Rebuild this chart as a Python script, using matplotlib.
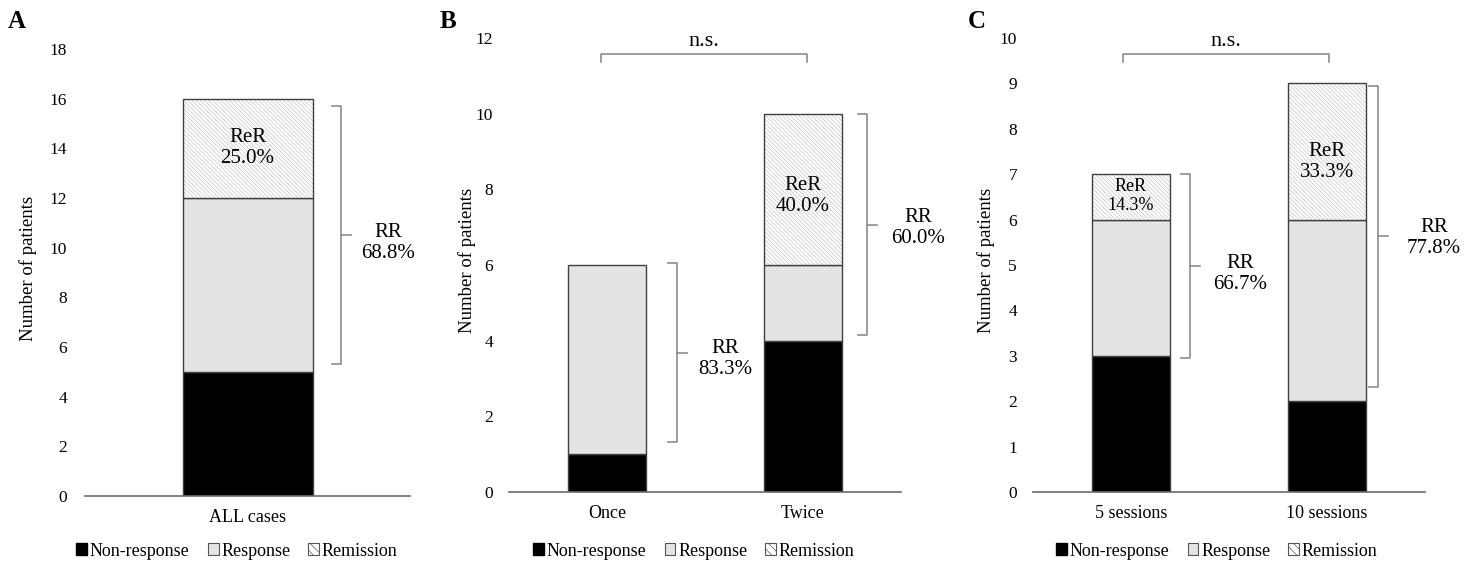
import matplotlib
matplotlib.use('Agg')
import matplotlib.pyplot as plt
from matplotlib.patches import Patch

plt.rcParams['font.family'] = ['Liberation Serif', 'DejaVu Serif']
plt.rcParams['hatch.linewidth'] = 0.5

# #
# data
cats_a = ['ALL cases']
nonresp_a = [5]
resp_a = [7]
remis_a = [4]
rr_a = ['68.8%']
rer_a = ['25.0%']

cats_b = ['Once', 'Twice']
nonresp_b = [1, 4]
resp_b = [5, 2]
remis_b = [0, 4]
rr_b = ['83.3%', '60.0%']
rer_b = [None, '40.0%']

cats_c = ['5 sessions', '10 sessions']
nonresp_c = [3, 2]
resp_c = [3, 4]
remis_c = [1, 3]
rr_c = ['66.7%', '77.8%']
rer_c = ['14.3%', '33.3%']

# #
# layout settings
W, H = 1478, 564
col_resp = '#e4e4e4'
col_edge = '#404040'
col_brk = '#8c8c8c'
hatch = '\\' * 8

fig = plt.figure(figsize=(W / 100, H / 100), dpi=100)


def px_axes(left, top, right, bottom):
    return fig.add_axes([left / W, 1 - bottom / H, (right - left) / W, (bottom - top) / H])


def draw_panel(ax, cats, nonresp, resp, remis, ymax, ystep, tickpad):
    x = list(range(len(cats)))
    bot2 = [a + b for a, b in zip(nonresp, resp)]
    ax.bar(x, nonresp, width=0.4, color='black', edgecolor=col_edge, linewidth=1.0, zorder=2)
    ax.bar(x, resp, width=0.4, bottom=nonresp, color=col_resp, edgecolor=col_edge, linewidth=1.0, zorder=2)
    for xi, b, h in zip(x, bot2, remis):
        if h == 0:
            continue
        ax.bar(xi, h, width=0.4, bottom=b, color='white', edgecolor='#c4c4c4', linewidth=0, hatch=hatch, zorder=2)
        ax.bar(xi, h, width=0.4, bottom=b, color='none', edgecolor=col_edge, linewidth=1.0, zorder=3)
    ax.set_xlim(-0.5, len(cats) - 0.5)
    ax.set_ylim(0, ymax)
    ax.set_yticks(range(0, ymax + 1, ystep))
    ax.set_xticks(x)
    ax.set_xticklabels(cats, fontsize=13)
    for s in ['top', 'right', 'left']:
        ax.spines[s].set_visible(False)
    ax.spines['bottom'].set_color('#6a6a6a')
    ax.spines['bottom'].set_linewidth(1.2)
    ax.tick_params(axis='y', length=0, pad=tickpad, labelsize=12.5)
    ax.tick_params(axis='x', length=0, pad=9)
    ax.set_facecolor('none')


def rr_bracket(ax, xb, lo, hi, xt, yt, label):
    # vertical bracket: arms left at the ends, small tick right at the middle
    xr = ax.get_xlim()
    dx = (xr[1] - xr[0]) / (ax.get_position().width * W)  # data units per pixel
    mid = (lo + hi) / 2
    ax.plot([xb - 9 * dx, xb, xb, xb - 9 * dx], [lo, lo, hi, hi], c=col_brk, lw=1.2, clip_on=False, zorder=4)
    ax.plot([xb, xb + 10 * dx], [mid, mid], c=col_brk, lw=1.2, clip_on=False, zorder=4)
    ax.text(xt, yt, 'RR\n' + label, ha='center', va='center', fontsize=15, clip_on=False, linespacing=1.15)


def ns_bracket(ax, x0, x1, yl, ye, yt):
    ax.plot([x0, x0, x1, x1], [ye, yl, yl, ye], c=col_brk, lw=1.2, clip_on=False)
    ax.text((x0 + x1) / 2, yt, 'n.s.', ha='center', va='center', fontsize=16, clip_on=False)


def rer_text(ax, xs, heights, labels, ys, sizes):
    for xi, h, lab, y, fs in zip(xs, heights, labels, ys, sizes):
        if lab is None or h == 0:
            continue
        ax.text(xi, y, 'ReR\n' + lab, ha='center', va='center', fontsize=fs, zorder=5, linespacing=1.15)


def legend_below(ax, xc):
    handles = [Patch(facecolor='black', edgecolor='black', label='Non-response'),
               Patch(facecolor=col_resp, edgecolor='#555555', linewidth=0.8, label='Response'),
               Patch(facecolor='white', edgecolor='#555555', linewidth=0.8, hatch='\\' * 4, label='Remission')]
    ax.legend(handles=handles, loc='center', bbox_to_anchor=(xc / W, 1 - 551 / H), bbox_transform=fig.transFigure,
              ncol=3, frameon=False, fontsize=13, handlelength=0.6, handleheight=0.6, handletextpad=0.15,
              columnspacing=1.0, borderaxespad=0)


def ylabel(ax, xpx):
    pos = ax.get_position()
    xa = (xpx / W - pos.x0) / pos.width
    ax.text(xa, 0.51, 'Number of patients', transform=ax.transAxes, rotation=90, ha='center', va='center',
            fontsize=13.5)


# #
# Panel A
ax_a = px_axes(85, 49, 410, 496)
draw_panel(ax_a, cats_a, nonresp_a, resp_a, remis_a, 18, 2, 13)
rer_text(ax_a, [0], remis_a, rer_a, [14.0], [15])
rr_bracket(ax_a, 0.288, 5.32, 15.7, 0.432, 10.2, rr_a[0])
legend_below(ax_a, 237)
ylabel(ax_a, 28)
fig.text(8 / W, 1 - 22 / H, 'A', fontsize=18, fontweight='bold', va='center', ha='left')

# #
# Panel B
ax_b = px_axes(509, 38, 901, 492)
draw_panel(ax_b, cats_b, nonresp_b, resp_b, remis_b, 12, 2, 11.5)
rer_text(ax_b, [0, 1], remis_b, rer_b, [None, 7.83], [15, 15])
rr_bracket(ax_b, 0.359, 1.31, 6.04, 0.605, 3.52, rr_b[0])
rr_bracket(ax_b, 1.326, 4.14, 10.0, 1.587, 6.97, rr_b[1])
ns_bracket(ax_b, -0.029, 1.019, 11.57, 11.36, 11.9)
legend_below(ax_b, 694)
ylabel(ax_b, 467)
fig.text(440 / W, 1 - 22 / H, 'B', fontsize=18, fontweight='bold', va='center', ha='left')

# #
# Panel C
ax_c = px_axes(1033, 38, 1425, 492)
draw_panel(ax_c, cats_c, nonresp_c, resp_c, remis_c, 10, 1, 11.5)
rer_text(ax_c, [0, 1], remis_c, rer_c, [6.53, 7.26], [13, 15])
rr_bracket(ax_c, 0.303, 2.96, 7.0, 0.559, 4.81, rr_c[0])
rr_bracket(ax_c, 1.26, 2.31, 8.95, 1.546, 5.6, rr_c[1])
ns_bracket(ax_c, -0.04, 1.009, 9.64, 9.47, 9.92)
legend_below(ax_c, 1217)
ylabel(ax_c, 986)
fig.text(968 / W, 1 - 22 / H, 'C', fontsize=18, fontweight='bold', va='center', ha='left')

plt.savefig('out.png', dpi=100)
